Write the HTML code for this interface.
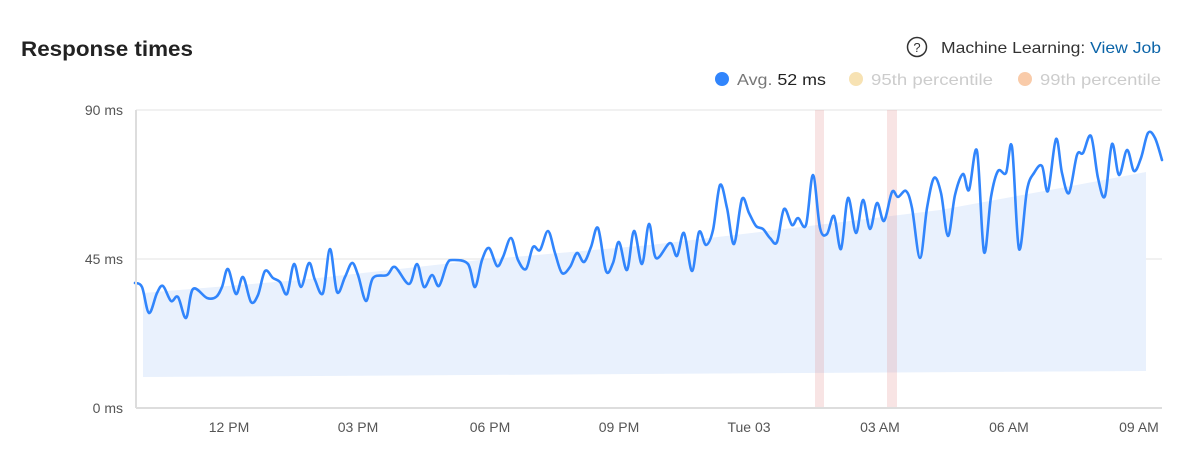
<!DOCTYPE html>
<html><head><meta charset="utf-8"><style>
body{margin:0;background:#fff;font-family:"Liberation Sans",sans-serif;}
svg text{font-family:"Liberation Sans",sans-serif;}
</style></head><body>
<svg width="1184" height="462" viewBox="0 0 1184 462" xmlns="http://www.w3.org/2000/svg">
<text x="21" y="56" font-size="21" font-weight="bold" fill="#222" textLength="172" lengthAdjust="spacingAndGlyphs">Response times</text>
<circle cx="917" cy="47" r="9.5" fill="none" stroke="#333" stroke-width="1.5"/>
<text x="917" y="52" font-size="13" text-anchor="middle" fill="#333">?</text>
<text x="941" y="53" font-size="16" fill="#333" textLength="220" lengthAdjust="spacingAndGlyphs">Machine Learning: <tspan fill="#0b64a8">View Job</tspan></text>
<circle cx="722" cy="79" r="7" fill="#3185fc"/>
<text x="737" y="85" font-size="16" fill="#777" textLength="89" lengthAdjust="spacingAndGlyphs">Avg. <tspan fill="#222">52 ms</tspan></text>
<circle cx="856" cy="79" r="7" fill="#f7e2b3"/>
<text x="871" y="85" font-size="16" fill="#ccc" textLength="122" lengthAdjust="spacingAndGlyphs">95th percentile</text>
<circle cx="1025" cy="79" r="7" fill="#f9cba9"/>
<text x="1040" y="85" font-size="16" fill="#ccc" textLength="121" lengthAdjust="spacingAndGlyphs">99th percentile</text>
<line x1="136" y1="110" x2="1162" y2="110" stroke="#e3e3e3"/>
<line x1="136" y1="259" x2="1162" y2="259" stroke="#e3e3e3"/>
<path d="M143,293 L300,280 L480,260 L650,245 L760,232 L940,210 L1050,190 L1146,172 L1146,371 L143,377 Z" fill="#e9f1fd"/>
<rect x="815" y="110" width="9" height="298" fill="rgba(225,130,130,0.22)"/>
<rect x="887" y="110" width="10" height="298" fill="rgba(225,130,130,0.22)"/>
<path id="ln" fill="none" stroke="#3185fc" stroke-width="2.6" stroke-linejoin="round" stroke-linecap="round"/>
<line x1="136" y1="110" x2="136" y2="408" stroke="#ddd" stroke-width="2"/>
<line x1="136" y1="408" x2="1162" y2="408" stroke="#ddd" stroke-width="2"/>
<g font-size="14" fill="#555" text-anchor="end">
<text x="123" y="115">90 ms</text><text x="123" y="264">45 ms</text><text x="123" y="413">0 ms</text></g>
<g font-size="14" fill="#555" text-anchor="middle">
<text x="229" y="432">12 PM</text><text x="358" y="432">03 PM</text><text x="490" y="432">06 PM</text><text x="619" y="432">09 PM</text><text x="749" y="432">Tue 03</text><text x="880" y="432">03 AM</text><text x="1009" y="432">06 AM</text><text x="1139" y="432">09 AM</text></g>
</svg>
<script>
var p=[[135,283],[142,287],[149,313],[157,293],[163,286],[171,301],[178,297],[186,318],[193,289],[207,298],[216,297],[222,287],[228,269],[236,294],[243,277],[251,302],[258,295],[265,271],[273,278],[280,282],[287,294],[294,264],[301,287],[309,263],[315,280],[323,293],[330,249],[337,292],[345,277],[352,263],[358,275],[366,301],[373,278],[387,275],[395,267],[409,284],[417,264],[424,287],[432,275],[439,286],[447,264],[453,260],[468,264],[475,287],[482,260],[489,248],[497,266],[503,257],[511,238],[518,260],[526,269],[533,247],[540,250],[548,231],[555,253],[562,273],[570,267],[577,253],[584,262],[591,247],[598,228],[606,271],[613,263],[619,242],[627,270],[634,231],[642,264],[649,224],[656,258],[670,243],[677,256],[684,233],[692,271],[699,232],[706,245],[713,230],[720,185],[727,208],[734,244],[742,199],[749,213],[756,226],[763,229],[770,238],[777,242],[784,209],[792,225],[798,218],[806,225],[813,175],[820,228],[827,234],[834,216],[841,249],[848,198],[856,233],[863,200],[870,229],[877,203],[884,221],[892,192],[898,197],[906,191],[912,208],[920,258],[927,208],[934,178],[941,193],[948,236],[955,195],[963,174],[969,190],[977,151],[984,252],[991,197],[998,171],[1006,173],[1012,147],[1019,249],[1027,190],[1034,173],[1042,166],[1048,191],[1056,139],[1062,173],[1069,193],[1077,155],[1083,153],[1091,136],[1098,178],[1105,196],[1112,144],[1119,175],[1127,150],[1134,171],[1141,158],[1148,133],[1155,138],[1162,160]];
var d="M"+p[0];
for(var i=0;i<p.length-1;i++){var a=p[i-1]||p[i],b=p[i],c=p[i+1],e=p[i+2]||c;
d+=" C"+(b[0]+(c[0]-a[0])/6)+","+(b[1]+(c[1]-a[1])/6)+" "+(c[0]-(e[0]-b[0])/6)+","+(c[1]-(e[1]-b[1])/6)+" "+c[0]+","+c[1];}
document.getElementById("ln").setAttribute("d",d);
</script>
</body></html>
